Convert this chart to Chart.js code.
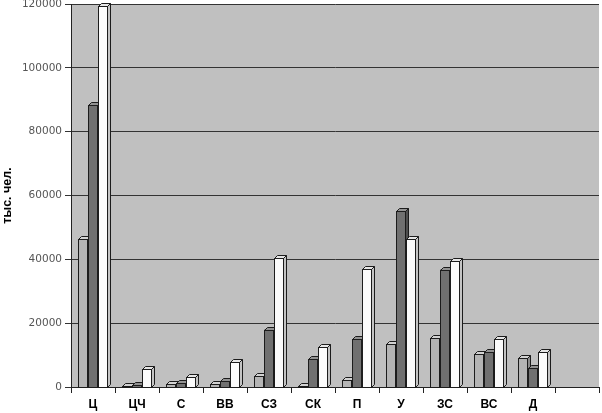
<!DOCTYPE html>
<html>
<head>
<meta charset="utf-8">
<script src="https://cdn.jsdelivr.net/npm/chart.js@4/dist/chart.umd.min.js"></script>
<style>
  html, body { margin: 0; padding: 0; background: #fff; }
  #wrap { width: 602px; height: 413px; }
</style>
</head>
<body>
<div id="wrap"><canvas id="grafico"></canvas></div>
<script>
// регионы
const regiones = ["Ц", "ЦЧ", "С", "ВВ", "СЗ", "СК", "П", "У", "ЗС", "ВС", "Д", ""];
// три ряда, тыс. чел.
const serie1 = [46400, 200, 1000, 800, 3500, 300, 2300, 13500, 15200, 10300, 9000, null];
const serie2 = [88300, 500, 1400, 1800, 18000, 8700, 14900, 55000, 36800, 11100, 5900, null];
const serie3 = [119400, 5700, 3000, 7900, 40500, 12400, 36900, 46300, 39400, 14900, 10900, null];
const ticksY = [0, 20000, 40000, 60000, 80000, 100000, 120000];

// colores: frente, lado, tapa
const tonos = [
  ["#b4b4b4", "#8c8c8c", "#d2d2d2"],
  ["#707070", "#4e4e4e", "#929292"],
  ["#fbfbfb", "#c4c4c4", "#e6e6e6"]
];
const prof = 3;

const fondo = {
  id: "fondo",
  beforeDraw(chart) {
    const { ctx, chartArea: a } = chart;
    ctx.save();
    ctx.fillStyle = "#c0c0c0";
    ctx.fillRect(a.left, a.top, a.right - a.left, a.bottom - a.top);
    ctx.restore();
  }
};

// caras 3D de cada barra, en orden de serie
const barras3d = {
  id: "barras3d",
  afterDatasetsDraw(chart) {
    const ctx = chart.ctx;
    const n = regiones.length;
    ctx.save();
    ctx.lineWidth = 1;
    ctx.strokeStyle = "#1c1c1c";
    for (let i = 0; i < n; i++) {
      for (let d = 0; d < 3; d++) {
        const el = chart.getDatasetMeta(d).data[i];
        if (!el || chart.data.datasets[d].data[i] == null) continue;
        const { x, y, base, width } = el.getProps(["x", "y", "base", "width"], true);
        const l = Math.round(x - width / 2) + 0.5;
        const r = Math.round(x + width / 2) - 0.5;
        const t = Math.round(y) + 0.5;
        const b = Math.round(base) + 0.5;
        const [cf, cl, ct] = tonos[d];
        // lado
        ctx.beginPath();
        ctx.moveTo(r, t);
        ctx.lineTo(r + prof, t - prof);
        ctx.lineTo(r + prof, b - prof);
        ctx.lineTo(r, b);
        ctx.closePath();
        ctx.fillStyle = cl;
        ctx.fill();
        ctx.stroke();
        // tapa
        ctx.beginPath();
        ctx.moveTo(l, t);
        ctx.lineTo(l + prof, t - prof);
        ctx.lineTo(r + prof, t - prof);
        ctx.lineTo(r, t);
        ctx.closePath();
        ctx.fillStyle = ct;
        ctx.fill();
        ctx.stroke();
        // frente
        ctx.fillStyle = cf;
        ctx.fillRect(l, t, r - l, b - t);
        ctx.strokeRect(l, t, r - l, b - t);
      }
    }
    ctx.restore();
  }
};

const ctx = document.getElementById("grafico").getContext("2d");
new Chart(ctx, {
  type: "bar",
  data: {
    labels: regiones,
    datasets: [
      { label: "1", data: serie1, backgroundColor: tonos[0][0] },
      { label: "2", data: serie2, backgroundColor: tonos[1][0] },
      { label: "3", data: serie3, backgroundColor: tonos[2][0] }
    ]
  },
  options: {
    responsive: true,
    maintainAspectRatio: false,
    animation: false,
    layout: { padding: { top: 4, right: 3, left: 0, bottom: 0 } },
    datasets: {
      bar: { barPercentage: 1, categoryPercentage: 0.68 }
    },
    scales: {
      x: {
        grid: {
          offset: true,
          drawOnChartArea: false,
          color: "#222",
          tickLength: 6
        },
        border: { color: "#222" },
        ticks: {
          color: "#000",
          padding: 4,
          maxRotation: 0,
          font: { family: "Liberation Sans, Arial", size: 12, weight: "bold" }
        },
        afterFit: s => { s.height = 26; s.paddingLeft = 0; s.paddingRight = 0; }
      },
      y: {
        min: 0,
        max: 120000,
        afterBuildTicks: s => { s.ticks = ticksY.map(v => ({ value: v })); },
        grid: { color: "#333", tickLength: 6 },
        border: { color: "#222" },
        ticks: {
          color: "#555",
          padding: 3,
          callback: v => String(v),
          font: { family: "DejaVu Sans", size: 10.5 }
        },
        title: {
          display: true,
          text: "тыс. чел.",
          color: "#000",
          padding: { top: 0, bottom: 0 },
          font: { family: "Liberation Sans, Arial", size: 12.5, weight: "bold" }
        },
        afterFit: s => { s.width = 71; s.paddingTop = 0; s.paddingBottom = 0; }
      }
    },
    plugins: {
      legend: { display: false },
      tooltip: { enabled: false }
    }
  },
  plugins: [fondo, barras3d]
});
</script>
</body>
</html>
